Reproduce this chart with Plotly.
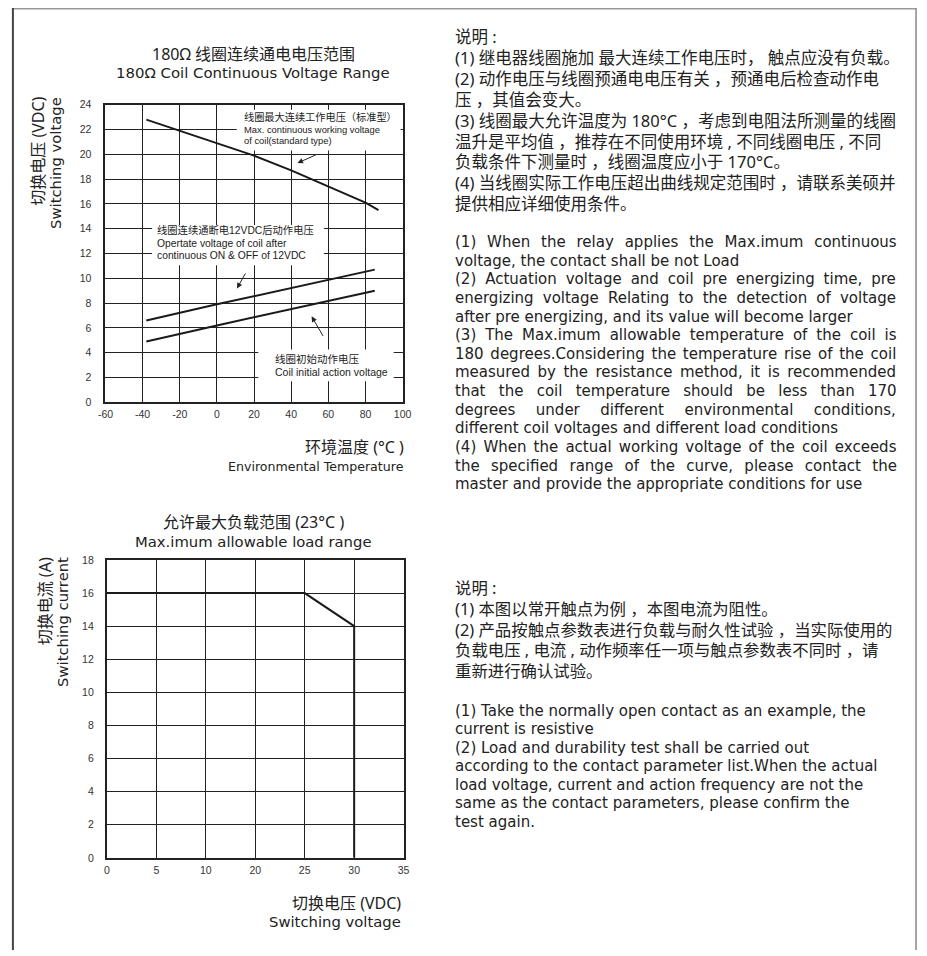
import plotly.graph_objects as go

W, H = 927, 956

# ---------------- data: top chart (180 ohm coil voltage range) ----------------
temp_max = [-38, -20, 0, 20, 40, 60, 80, 87]
volt_max = [22.8, 21.9, 20.9, 19.9, 18.7, 17.4, 16.1, 15.5]
temp_oper = [-38, 0, 85]
volt_oper = [6.6, 7.9, 10.7]
temp_init = [-38, 0, 85]
volt_init = [4.9, 6.2, 9.0]
temp_ticks = [-60, -40, -20, 0, 20, 40, 60, 80, 100]
volt_ticks = [0, 2, 4, 6, 8, 10, 12, 14, 16, 18, 20, 22, 24]

# ---------------- data: bottom chart (max allowable load) ----------------
sw_volt_labels = ["0", "5", "10", "20", "25", "30", "35"]
load_volt = ["0", "25", "30", "30"]
load_curr = [16, 16, 14, 0]
curr_ticks = [0, 2, 4, 6, 8, 10, 12, 14, 16, 18]

# ---------------- texts ----------------
notes_cn_top = [
    "说明 :",
    "(1) 继电器线圈施加 最大连续工作电压时， 触点应没有负载。",
    "(2) 动作电压与线圈预通电电压有关 ，预通电后检查动作电",
    "压 ，其值会变大。",
    "(3) 线圈最大允许温度为 180°C ，考虑到电阻法所测量的线圈",
    "温升是平均值 ，推荐在不同使用环境 , 不同线圈电压 , 不同",
    "负载条件下测量时 ，线圈温度应小于 170°C。",
    "(4) 当线圈实际工作电压超出曲线规定范围时 ，请联系美硕并",
    "提供相应详细使用条件。",
]
notes_en_top = [
    "(1) When the relay applies the Max.imum continuous",
    "voltage,  the contact shall be not Load",
    "(2) Actuation voltage and coil pre energizing time,  pre",
    "energizing voltage Relating to the detection of voltage",
    "after pre energizing,  and its value will become larger",
    "(3) The Max.imum allowable temperature of the coil is",
    "180 degrees.Considering the temperature rise of the coil",
    "measured by the resistance method,  it is recommended",
    "that the coil temperature should be less than 170",
    "degrees under different environmental conditions,",
    "different coil voltages and different load conditions",
    "(4) When the actual working voltage of the coil exceeds",
    "the specified range of the curve,  please contact the",
    "master and provide the appropriate conditions for use",
]
# lines of the English note that are set justified in the reference
justified_en_top = [0, 2, 3, 5, 6, 7, 8, 9, 11, 12]
notes_cn_bot = [
    "说明 :",
    "(1) 本图以常开触点为例 ，本图电流为阻性。",
    "(2) 产品按触点参数表进行负载与耐久性试验 ，当实际使用的",
    "负载电压 , 电流 , 动作频率任一项与触点参数表不同时 ，请",
    "重新进行确认试验。",
]
notes_en_bot = [
    "(1) Take the normally open contact as an example, the",
    "current is resistive",
    "(2) Load and durability test shall be carried out",
    "according to the contact parameter list.When the actual",
    "load voltage,  current and action frequency are not the",
    "same as the contact parameters,  please confirm the",
    "test again.",
]

CN_FONT = "Noto Sans, Noto Sans CJK SC"
EN_FONT = "DejaVu Sans"
CHART_FONT = "Liberation Sans, Noto Sans CJK SC"
INK = "#222222"

# advance widths (em) of DejaVu Sans, used only to justify lines of the notes
ADV = {" ": .318, "a": .613, "b": .635, "c": .55, "d": .635, "e": .615, "f": .352,
       "g": .635, "h": .634, "i": .278, "j": .278, "k": .579, "l": .278, "m": .974,
       "n": .634, "o": .612, "p": .635, "q": .635, "r": .411, "s": .521, "t": .392,
       "u": .634, "v": .592, "w": .818, "x": .592, "y": .592, "z": .525, ",": .318,
       ".": .318, "(": .39, ")": .39, "A": .684, "C": .698, "L": .557, "M": .863,
       "R": .695, "T": .611, "W": .989}


def nat_width(s, size):
    return sum(ADV.get(ch, .636) for ch in s) * size


def px(x):
    return x / W


def py(y):
    return 1 - y / H


fig = go.Figure()

line_style = dict(color="#1a1a1a", width=2)
for xs, ys, xa, ya in [(temp_max, volt_max, "x", "y"), (temp_oper, volt_oper, "x", "y"),
                       (temp_init, volt_init, "x", "y"), (load_volt, load_curr, "x2", "y2")]:
    fig.add_trace(go.Scatter(x=xs, y=ys, mode="lines", line=line_style,
                             xaxis=xa, yaxis=ya, hoverinfo="skip"))

tickfont = dict(family="Liberation Sans", size=10.5, color="#333333")
axis_common = dict(showgrid=True, gridcolor=INK, gridwidth=1, showline=True,
                   mirror=True, linecolor=INK, linewidth=2, ticks="",
                   zeroline=False, tickfont=tickfont, fixedrange=True)

fig.update_layout(
    width=W, height=H, margin=dict(l=0, r=0, t=0, b=0),
    paper_bgcolor="white", plot_bgcolor="white", showlegend=False,
    xaxis=dict(domain=[px(99.3), px(402)], range=[-60, 100], tickvals=temp_ticks,
               ticktext=[str(v) for v in temp_ticks],
               anchor="y", ticklabelstandoff=1, **axis_common),
    yaxis=dict(domain=[py(401.3), py(100)], range=[0, 24], tickvals=volt_ticks,
               ticktext=[str(v) for v in volt_ticks],
               anchor="x", ticklabelstandoff=10, **axis_common),
    xaxis2=dict(domain=[px(100.7), px(403)], type="category",
                categoryorder="array", categoryarray=sw_volt_labels,
                range=[0, 6], anchor="y2", ticklabelstandoff=2, **axis_common),
    yaxis2=dict(domain=[py(862.7), py(561)], range=[0, 18], tickvals=curr_ticks,
                ticktext=[str(v) for v in curr_ticks],
                anchor="x2", ticklabelstandoff=9, **axis_common),
)

shapes = []
# white label boxes covering the grid in the top chart (between grid and curves)
for x0, x1, y0, y1 in [(10.7, 98.9, 20.3, 23.6), (-34.9, 57.6, 11.05, 14.3),
                       (22.3, 95.2, 1.7, 4.25)]:
    shapes.append(dict(type="rect", xref="x", yref="y", x0=x0, x1=x1, y0=y0, y1=y1,
                       fillcolor="white", line=dict(width=0), layer="between"))
# page frame
shapes.append(dict(type="line", xref="paper", yref="paper", x0=px(5), x1=px(925),
                   y0=py(2.7), y1=py(2.7), line=dict(color="#999999", width=1.5)))
shapes.append(dict(type="line", xref="paper", yref="paper", x0=px(5), x1=px(5),
                   y0=py(2), y1=0, line=dict(color="#444444", width=2)))
shapes.append(dict(type="line", xref="paper", yref="paper", x0=px(925), x1=px(925),
                   y0=py(2), y1=0, line=dict(color="#888888", width=1.5)))
fig.update_layout(shapes=shapes)

ann = []


def text(x, y, s, size=16, anchor="left", family=CN_FONT, color=INK,
         xref="paper", yref="paper", angle=0, yanchor="middle", align="left"):
    ann.append(dict(x=x, y=y, xref=xref, yref=yref, text=s, showarrow=False,
                    xanchor=anchor, yanchor=yanchor, textangle=angle, align=align,
                    borderpad=0, borderwidth=0,
                    font=dict(family=family, size=size, color=color)))


def block(lines, sizes, spacing):
    """join lines into one multi-line text; line pitch = 1.3 * base font size"""
    parts = []
    for s, sz in zip(lines, sizes):
        parts.append('<span style="font-size:%.2fpx">%s</span>' % (sz, s))
    return "<br>".join(parts), spacing / 1.3


# chart titles
text(px(250), py(49), "180Ω 线圈连续通电电压范围", anchor="center")
text(px(250), py(67.5), "180Ω Coil Continuous Voltage Range", anchor="center",
     family=EN_FONT, size=14.9)
text(px(250), py(523), "允许最大负载范围 (23°C )", anchor="center")
text(px(250), py(542.3), "Max.imum allowable load range", anchor="center",
     family=EN_FONT, size=14.8)

# y-axis titles (rotated)
text(px(31), py(92), "切换电压 (VDC)", anchor="center", angle=-90, yanchor="top")
text(px(49), py(92), "Switching voltage", anchor="center", angle=-90, yanchor="top",
     family=EN_FONT, size=14.8)
text(px(38), py(558), "切换电流 (A)", anchor="center", angle=-90, yanchor="top")
text(px(56), py(558), "Switching current", anchor="center", angle=-90, yanchor="top",
     family=EN_FONT, size=14.8)

# x-axis titles
text(px(403), py(447), "环境温度 (°C )", anchor="right")
text(px(403), py(466), "Environmental Temperature", anchor="right", family=EN_FONT,
     size=12.6)
text(px(400), py(908.3), "切换电压 (VDC)", anchor="right")
text(px(400), py(927.3), "Switching voltage", anchor="right", family=EN_FONT, size=14.8)

# labels inside the top chart
s, base = block(["线圈最大连续工作电压（标准型）", "Max. continuous working voltage",
                 "of coil(standard type)"], [10.2, 9.4, 9.4], 11.7)
text(14.4, 22.05, s, size=base, family=CHART_FONT, xref="x", yref="y")
s, base = block(["线圈连续通断电12VDC后动作电压", "Opertate voltage of coil after",
                 "continuous ON &amp; OFF of 12VDC"], [10.3, 10.3, 10.3], 12.5)
text(-32.0, 12.85, s, size=base, family=CHART_FONT, xref="x", yref="y")
s, base = block(["线圈初始动作电压", "Coil initial action voltage"], [10.5, 10.5], 13.0)
text(31.1, 2.955, s, size=base, family=CHART_FONT, xref="x", yref="y")

# arrows in the top chart
for hx, hy, tx, ty in [(43.4, 19.3, 54.0, 20.0), (10.8, 9.18, 15.8, 10.51),
                       (51.0, 6.93, 57.6, 5.23)]:
    ann.append(dict(x=hx, y=hy, ax=tx, ay=ty, xref="x", yref="y", axref="x", ayref="y",
                    text="", showarrow=True, arrowhead=2, arrowsize=1.1, arrowwidth=1,
                    arrowcolor=INK, standoff=0, startstandoff=0))

# right-hand notes
LEFT = 455
RIGHT = 897
EN_SIZE = 15.0


def en_lines(lines, justified):
    out = []
    for i, s in enumerate(lines):
        s1 = " ".join(s.split())
        style = "font-size:%.1fpx" % EN_SIZE
        if i in justified:
            n = s1.count(" ")
            ws = (RIGHT - LEFT - nat_width(s1, EN_SIZE)) / max(n, 1)
            style += ";word-spacing:%.2fpx" % max(ws, 0)
        out.append('<span style="%s">%s</span>' % (style, s1))
    return "<br>".join(out)


def add_block(x, y_first, pitch, n, s, family):
    yc = y_first + pitch * (n - 1) / 2
    text(px(x), py(yc), s, size=pitch / 1.3, family=family)


s, _ = block(notes_cn_top, [16.5] * len(notes_cn_top), 20.9)
add_block(LEFT, 32, 20.9, len(notes_cn_top), s, CN_FONT)
add_block(LEFT, 240.0, 18.64, len(notes_en_top), en_lines(notes_en_top, justified_en_top),
          EN_FONT)
s, _ = block(notes_cn_bot, [16.4] * len(notes_cn_bot), 20.8)
add_block(LEFT, 589.5, 20.8, len(notes_cn_bot), s, CN_FONT)
add_block(LEFT, 714.5, 18.45, len(notes_en_bot), en_lines(notes_en_bot, []), EN_FONT)

fig.update_layout(annotations=ann)

fig.write_html(
    "out.html",
    config={"displayModeBar": False, "staticPlot": True},
    post_script="document.body.style.margin='0px';"
                "document.body.style.overflow='hidden';"
                "document.documentElement.style.overflow='hidden';",
)
